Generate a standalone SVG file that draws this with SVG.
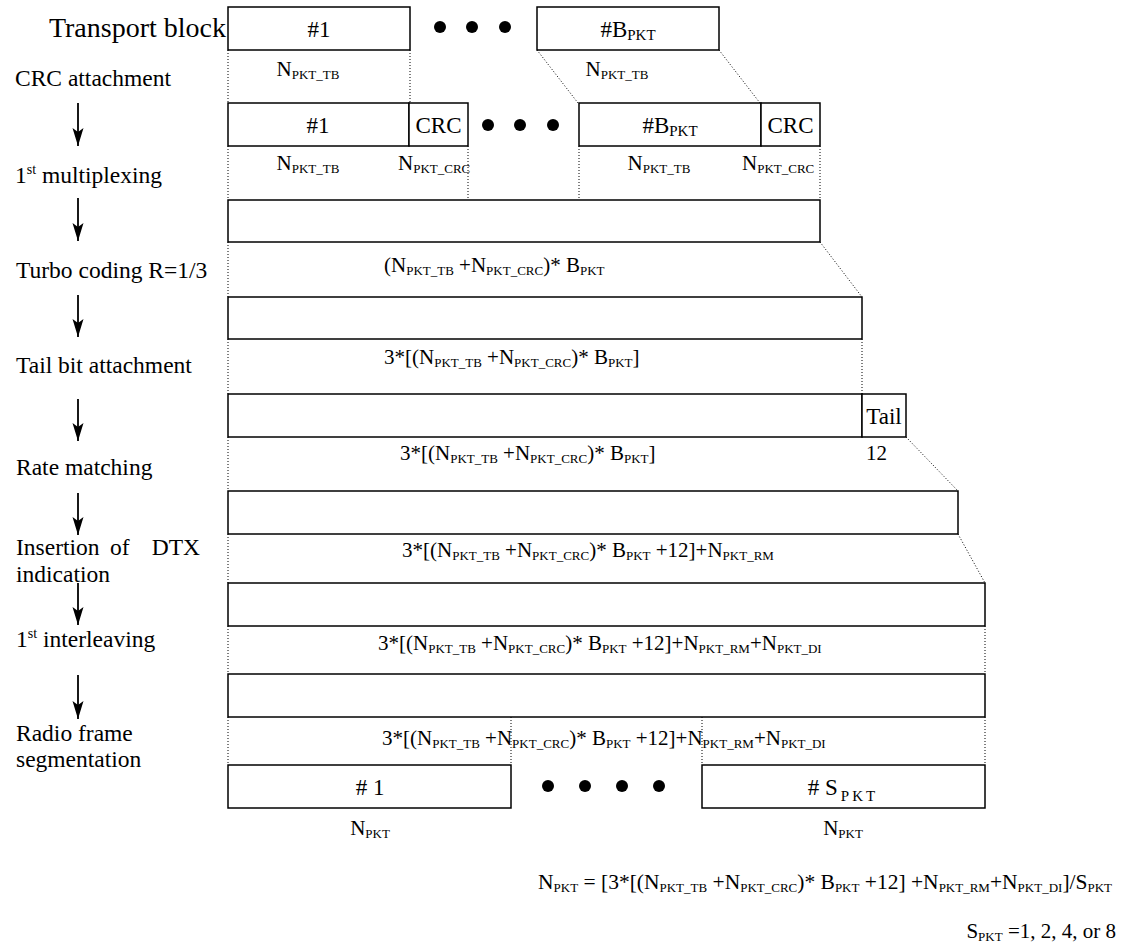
<svg xmlns="http://www.w3.org/2000/svg" width="1128" height="944" viewBox="0 0 1128 944">
<defs>
<marker id="ah" markerWidth="18" markerHeight="12" refX="18" refY="6" orient="auto" markerUnits="userSpaceOnUse" viewBox="0 0 18 12">
<path d="M0,0.5 L18,6 L0,11.5 L4,6 Z" fill="#000"/>
</marker>
<style>
text{font-family:"Liberation Serif","Times New Roman",serif;fill:#000}
.lbl{font-size:23.5px}
.big{font-size:28px}
.bx{font-size:23px}
.dim{font-size:21px}
.fm{font-size:21.5px}
.s{font-size:13px}
.bs{font-size:15px}
.box{fill:#fff;stroke:#000;stroke-width:1.5}
.dot{fill:none;stroke:#000;stroke-width:1;stroke-dasharray:1 2}
.arr{stroke:#000;stroke-width:1.8;fill:none}
</style>
</defs>
<rect width="1128" height="944" fill="#fff"/>

<g id="steps">
<text class="big" x="226" y="37" text-anchor="end">Transport block</text>
<text class="lbl" x="15" y="86">CRC attachment</text>
<text class="lbl" x="15" y="183">1<tspan font-size="14" dy="-9">st</tspan><tspan dy="9"> multiplexing</tspan></text>
<text class="lbl" x="16" y="278">Turbo coding R=1/3</text>
<text class="lbl" x="16" y="373">Tail bit attachment</text>
<text class="lbl" x="16" y="475">Rate matching</text>
<text class="lbl" x="16" y="555">Insertion</text>
<text class="lbl" x="110" y="555">of</text>
<text class="lbl" x="200" y="555" text-anchor="end">DTX</text>
<text class="lbl" x="16" y="582">indication</text>
<text class="lbl" x="16" y="647">1<tspan font-size="14" dy="-9">st</tspan><tspan dy="9"> interleaving</tspan></text>
<text class="lbl" x="16" y="741">Radio frame</text>
<text class="lbl" x="16" y="767">segmentation</text>
</g>

<g id="connectors">
<line class="arr" x1="78" y1="103" x2="78" y2="146" marker-end="url(#ah)"/>
<line class="arr" x1="78" y1="198" x2="78" y2="241" marker-end="url(#ah)"/>
<line class="arr" x1="78" y1="295" x2="78" y2="337" marker-end="url(#ah)"/>
<line class="arr" x1="78" y1="399" x2="78" y2="441" marker-end="url(#ah)"/>
<line class="arr" x1="78" y1="493" x2="78" y2="535" marker-end="url(#ah)"/>
<line class="arr" x1="78" y1="583" x2="78" y2="625" marker-end="url(#ah)"/>
<line class="arr" x1="78" y1="675" x2="78" y2="719" marker-end="url(#ah)"/>

<line class="dot" x1="228" y1="50" x2="228" y2="103"/>
<line class="dot" x1="228" y1="146" x2="228" y2="200"/>
<line class="dot" x1="228" y1="242" x2="228" y2="297"/>
<line class="dot" x1="228" y1="339" x2="228" y2="394"/>
<line class="dot" x1="228" y1="437" x2="228" y2="491"/>
<line class="dot" x1="228" y1="534" x2="228" y2="583"/>
<line class="dot" x1="228" y1="626" x2="228" y2="674"/>
<line class="dot" x1="228" y1="717" x2="228" y2="765"/>

<line class="dot" x1="410" y1="50" x2="410" y2="103"/>
<line class="dot" x1="537" y1="50" x2="578" y2="103"/>
<line class="dot" x1="719" y1="50" x2="760" y2="103"/>

<line class="dot" x1="468" y1="146" x2="468" y2="200"/>
<line class="dot" x1="579" y1="146" x2="579" y2="200"/>
<line class="dot" x1="820" y1="146" x2="820" y2="200"/>

<line class="dot" x1="820" y1="242" x2="862" y2="297"/>
<line class="dot" x1="862" y1="339" x2="862" y2="394"/>
<line class="dot" x1="906" y1="437" x2="958" y2="491"/>
<line class="dot" x1="958" y1="534" x2="985" y2="583"/>
<line class="dot" x1="985" y1="626" x2="985" y2="674"/>

<line class="dot" x1="511" y1="717" x2="511" y2="765"/>
<line class="dot" x1="702" y1="717" x2="702" y2="765"/>
<line class="dot" x1="985" y1="717" x2="985" y2="765"/>
</g>

<g id="row1">
<rect class="box" x="228" y="7" width="182" height="43"/>
<text class="bx" x="319" y="37" text-anchor="middle">#1</text>
<circle cx="440" cy="27" r="6"/>
<circle cx="472" cy="27" r="6"/>
<circle cx="505" cy="27" r="6"/>
<rect class="box" x="537" y="7" width="182" height="43"/>
<text class="bx" x="628" y="37" text-anchor="middle">#B<tspan class="bs" dy="3">PKT</tspan></text>
<text class="dim" x="308" y="76" text-anchor="middle">N<tspan class="s" dy="3">PKT_TB</tspan></text>
<text class="dim" x="617" y="76" text-anchor="middle">N<tspan class="s" dy="3">PKT_TB</tspan></text>
</g>

<g id="row2">
<rect class="box" x="228" y="103" width="181" height="43"/>
<text class="bx" x="318" y="133" text-anchor="middle">#1</text>
<rect class="box" x="409" y="103" width="59" height="43"/>
<text class="bx" x="438.5" y="133" text-anchor="middle">CRC</text>
<circle cx="488" cy="125" r="6"/>
<circle cx="520" cy="125" r="6"/>
<circle cx="553" cy="125" r="6"/>
<rect class="box" x="579" y="103" width="182" height="43"/>
<text class="bx" x="670" y="133" text-anchor="middle">#B<tspan class="bs" dy="3">PKT</tspan></text>
<rect class="box" x="761" y="103" width="59" height="43"/>
<text class="bx" x="790.5" y="133" text-anchor="middle">CRC</text>
<text class="dim" x="308" y="170" text-anchor="middle">N<tspan class="s" dy="3">PKT_TB</tspan></text>
<text class="dim" x="398" y="170">N<tspan class="s" dy="3">PKT_CRC</tspan></text>
<text class="dim" x="659" y="170" text-anchor="middle">N<tspan class="s" dy="3">PKT_TB</tspan></text>
<text class="dim" x="742" y="170">N<tspan class="s" dy="3">PKT_CRC</tspan></text>
</g>

<g id="row3">
<rect class="box" x="228" y="200" width="592" height="42"/>
<text class="dim" x="384" y="272">(N<tspan class="s" dy="3">PKT_TB</tspan><tspan dy="-3"> +N</tspan><tspan class="s" dy="3">PKT_CRC</tspan><tspan dy="-3">)* B</tspan><tspan class="s" dy="3">PKT</tspan></text>
</g>

<g id="row4">
<rect class="box" x="228" y="297" width="634" height="42"/>
<text class="dim" x="384" y="364">3*[(N<tspan class="s" dy="3">PKT_TB</tspan><tspan dy="-3"> +N</tspan><tspan class="s" dy="3">PKT_CRC</tspan><tspan dy="-3">)* B</tspan><tspan class="s" dy="3">PKT</tspan><tspan dy="-3">]</tspan></text>
</g>

<g id="row5">
<rect class="box" x="228" y="394" width="634" height="43"/>
<rect class="box" x="862" y="394" width="44" height="43"/>
<text class="bx" x="884" y="424" text-anchor="middle">Tail</text>
<text class="dim" x="400" y="460">3*[(N<tspan class="s" dy="3">PKT_TB</tspan><tspan dy="-3"> +N</tspan><tspan class="s" dy="3">PKT_CRC</tspan><tspan dy="-3">)* B</tspan><tspan class="s" dy="3">PKT</tspan><tspan dy="-3">]</tspan></text>
<text class="dim" x="866" y="460">12</text>
</g>

<g id="row6">
<rect class="box" x="228" y="491" width="730" height="43"/>
<text class="dim" x="402" y="557">3*[(N<tspan class="s" dy="3">PKT_TB</tspan><tspan dy="-3"> +N</tspan><tspan class="s" dy="3">PKT_CRC</tspan><tspan dy="-3">)* B</tspan><tspan class="s" dy="3">PKT</tspan><tspan dy="-3"> +12]+N</tspan><tspan class="s" dy="3">PKT_RM</tspan></text>
</g>

<g id="row7">
<rect class="box" x="228" y="583" width="757" height="43"/>
<text class="dim" x="378" y="650">3*[(N<tspan class="s" dy="3">PKT_TB</tspan><tspan dy="-3"> +N</tspan><tspan class="s" dy="3">PKT_CRC</tspan><tspan dy="-3">)* B</tspan><tspan class="s" dy="3">PKT</tspan><tspan dy="-3"> +12]+N</tspan><tspan class="s" dy="3">PKT_RM</tspan><tspan dy="-3">+N</tspan><tspan class="s" dy="3">PKT_DI</tspan></text>
</g>

<g id="row8">
<rect class="box" x="228" y="674" width="757" height="43"/>
<text class="dim" x="382" y="745">3*[(N<tspan class="s" dy="3">PKT_TB</tspan><tspan dy="-3"> +N</tspan><tspan class="s" dy="3">PKT_CRC</tspan><tspan dy="-3">)* B</tspan><tspan class="s" dy="3">PKT</tspan><tspan dy="-3"> +12]+N</tspan><tspan class="s" dy="3">PKT_RM</tspan><tspan dy="-3">+N</tspan><tspan class="s" dy="3">PKT_DI</tspan></text>
</g>

<g id="row9">
<rect class="box" x="228" y="765" width="283" height="43"/>
<text class="bx" x="370" y="795" text-anchor="middle"># 1</text>
<circle cx="548" cy="786" r="6"/>
<circle cx="585" cy="786" r="6"/>
<circle cx="622" cy="786" r="6"/>
<circle cx="659" cy="786" r="6"/>
<rect class="box" x="702" y="765" width="283" height="43"/>
<text class="bx" x="843" y="795" text-anchor="middle"># S<tspan class="bs" dy="6" letter-spacing="3" dx="3">PKT</tspan></text>
<text class="dim" x="370" y="835" text-anchor="middle">N<tspan class="s" dy="3">PKT</tspan></text>
<text class="dim" x="843" y="835" text-anchor="middle">N<tspan class="s" dy="3">PKT</tspan></text>
</g>

<g id="formulas">
<text class="fm" x="538" y="889">N<tspan class="s" dy="3">PKT</tspan><tspan dy="-3"> = [3*[(N</tspan><tspan class="s" dy="3">PKT_TB</tspan><tspan dy="-3"> +N</tspan><tspan class="s" dy="3">PKT_CRC</tspan><tspan dy="-3">)* B</tspan><tspan class="s" dy="3">PKT</tspan><tspan dy="-3"> +12] +N</tspan><tspan class="s" dy="3">PKT_RM</tspan><tspan dy="-3">+N</tspan><tspan class="s" dy="3">PKT_DI</tspan><tspan dy="-3">]/S</tspan><tspan class="s" dy="3">PKT</tspan></text>
<text class="dim" x="1116" y="938" text-anchor="end">S<tspan class="s" dy="3">PKT</tspan><tspan dy="-3"> =1, 2, 4, or 8</tspan></text>
</g>
</svg>
